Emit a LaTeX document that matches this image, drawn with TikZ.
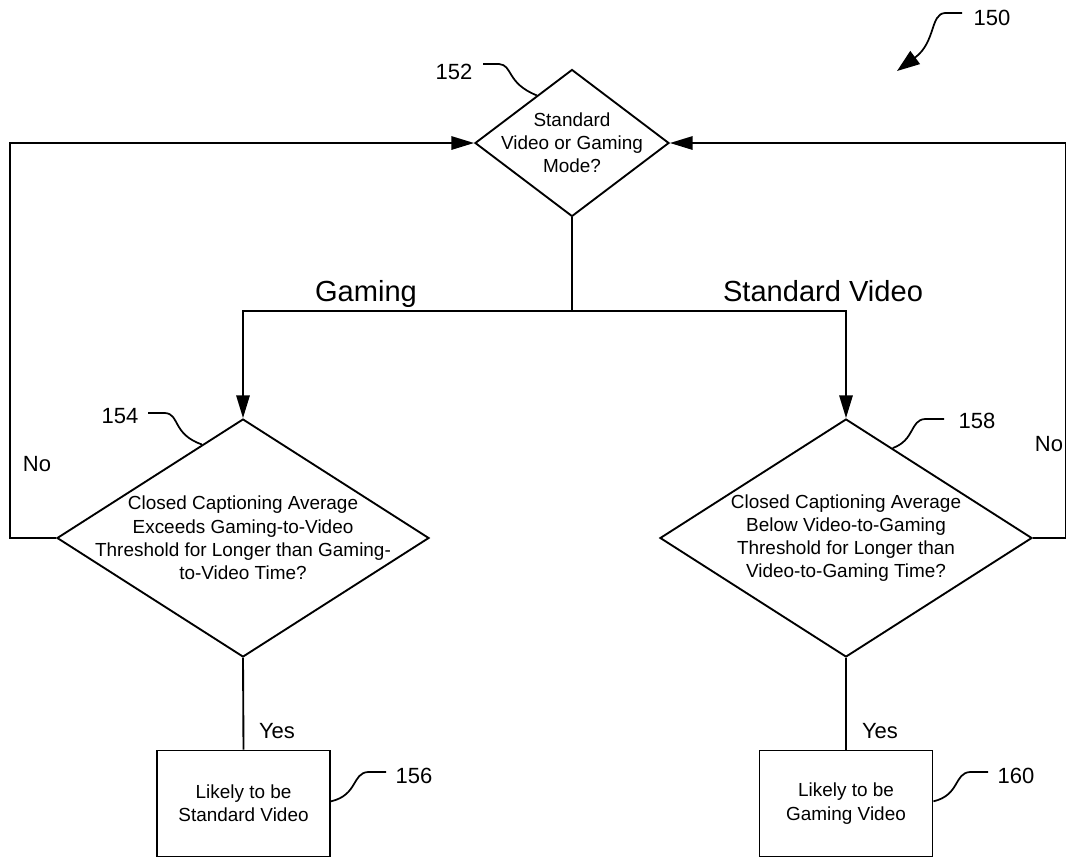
\documentclass[tikz,border=0pt]{standalone}
\usepackage{fontspec}
\setmainfont{Liberation Sans}
\usetikzlibrary{arrows.meta,calc,shapes.geometric}
\begin{document}
\begin{tikzpicture}[x=0.75pt,y=-0.75pt,
  line/.style={line width=1.4pt,line join=miter},
  arr/.style={line,-{Triangle[length=17pt,width=10pt]}},
  lead/.style={line width=1.3pt},
  dia/.style={draw,line width=1.4pt,shape=diamond,inner sep=0pt,aspect=1},
  dtext/.style={align=center,font=\fontsize{14.2}{17.4}\selectfont,inner sep=0pt},
  box/.style={draw,line width=1.4pt,rectangle,inner sep=0pt,minimum width=129.75pt,minimum height=79.5pt,align=center,font=\fontsize{14.2}{17.4}\selectfont},
  num/.style={font=\fontsize{16.5}{19}\selectfont,inner sep=0pt},
  yn/.style={font=\fontsize{16.5}{19}\selectfont,inner sep=0pt},
  big/.style={font=\fontsize{21.8}{25}\selectfont,inner sep=0pt,anchor=base}]
\useasboundingbox (0,0) rectangle (1067,858);

% diamonds
\node[dia,minimum width=145.5pt,minimum height=110.25pt] (d152) at (572,143) {};
\node[dtext] (t152) at (d152.center) {Standard\\Video or Gaming\\Mode?};
\node[dia,minimum width=279pt,minimum height=178.5pt] (d154) at (243,538) {};
\node[dtext] (t154) at (d154.center) {Closed Captioning Average\\Exceeds Gaming-to-Video\\Threshold for Longer than Gaming-\\to-Video Time?};
\node[dia,minimum width=279pt,minimum height=178.5pt] (d158) at (846,538) {};
\node[dtext] (t158) at (d158.center) {Closed Captioning Average\\Below Video-to-Gaming\\Threshold for Longer than\\Video-to-Gaming Time?};

% boxes
\node[box] (b156) at (243.5,803.5) {Likely to be\\Standard Video};
\node[box] (b160) at (846,803.5) {Likely to be\\Gaming Video};

% branch
\coordinate (split) at (572,311);
\coordinate (gl) at (243,311);
\coordinate (gr) at (846,311);
\draw[line] (d152.south) -- (split);
\draw[arr] (split) -- (gl) -- (d154.north);
\draw[arr] (split) -- (gr) -- (d158.north);
\node[big] (lgam) at (366,301) {Gaming};
\node[big] (lstd) at (823,301) {Standard Video};

% No loops
\coordinate (ll1) at (10,538);
\coordinate (ll2) at (10,143);
\draw[arr] (d154.west) -- (ll1) -- (ll2) -- (d152.west);
\coordinate (rl1) at (1065.5,538);
\coordinate (rl2) at (1065.5,143);
\draw[arr] (d158.east) -- (rl1) -- (rl2) -- (d152.east);
\node[yn] (no1) at (37,464) {No};
\node[yn] (no2) at (1049,444) {No};

% Yes
\draw[line] (d154.south) -- (b156.north);
\draw[line] (d158.south) -- (b160.north);
\node[yn] (yes1) at (277,731) {Yes};
\node[yn] (yes2) at (880,731) {Yes};

% reference numerals
\node[num] (l150) at (992,18) {150};
\coordinate (c150) at (962,13);
\draw[lead,-{Triangle[length=17pt,width=12pt]}] (c150) -- (945,13) .. controls (930,14) and (936,42) .. (897,71);

\node[num] (l152) at (454,72) {152};
\coordinate (c152) at (483,64);
\draw[lead] (c152) -- (499,64) .. controls (513,65) and (506,83) .. ($(d152.west)!0.64!(d152.north)$);

\node[num] (l154) at (120,416) {154};
\coordinate (c154) at (148,413);
\draw[lead] (c154) -- (165,413) .. controls (180,414) and (172,434) .. ($(d154.west)!0.78!(d154.north)$);

\node[num] (l158) at (977,421) {158};
\coordinate (c158) at (944,419);
\draw[lead] (c158) -- (925,419) .. controls (910,420) and (915,440) .. ($(d158.north)!0.25!(d158.east)$);

\node[num] (l156) at (414,776) {156};
\coordinate (c156) at (386,772);
\draw[lead] (c156) -- (368,772) .. controls (352,773) and (358,795) .. ($(b156.north east)!0.48!(b156.south east)$);

\node[num] (l160) at (1016,776) {160};
\coordinate (c160) at (988,772);
\draw[lead] (c160) -- (970,772) .. controls (954,773) and (960,795) .. ($(b160.north east)!0.48!(b160.south east)$);
\end{tikzpicture}
\end{document}
